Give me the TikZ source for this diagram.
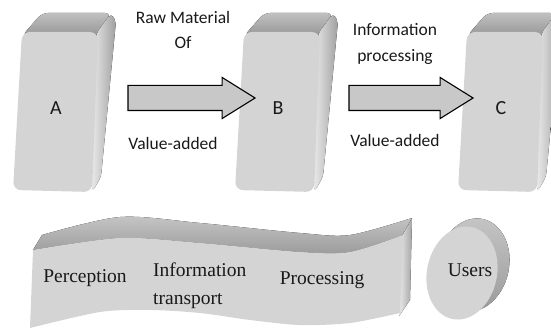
\documentclass[tikz,border=0pt]{standalone}
\usepackage{fontspec}
\newfontfamily\calibfont{Carlito}
\newfontfamily\timesfont{Liberation Serif}
\usetikzlibrary{shapes.arrows}

\definecolor{facegray}{RGB}{212,212,212}
\definecolor{topgray}{RGB}{150,150,150}
\definecolor{sidegray}{RGB}{232,232,232}
\definecolor{arrowgray}{RGB}{200,200,200}

\newcommand{\pillar}[1]{%
  \begin{scope}[xshift=#1pt]
    \fill[top color=topgray!60, bottom color=topgray, rounded corners=6pt]
      (22,36) -- (42,13) -- (111,13) -- (98,36) -- cycle;
    \fill[left color=sidegray, right color=gray!75, rounded corners=5pt]
      (96,34) -- (111,13) -- (116,21) -- (101,177) -- (92,192) -- cycle;
    \fill[facegray, rounded corners=8pt]
      (22,32) -- (98,32) -- (92,192) -- (13,190) -- cycle;
  \end{scope}}

\begin{document}
\begin{tikzpicture}[
  x=1pt, y=-1pt,
  pillar label/.style={font=\calibfont\fontsize{20}{24}\selectfont,text=black!90},
  flow label/.style={font=\calibfont\fontsize{17.5}{25.5}\selectfont,align=center,text=black!90},
  stage label/.style={font=\timesfont\fontsize{19.5}{28}\selectfont,text=black!90,inner sep=0pt},
  block arrow/.style={single arrow,draw=black,fill=arrowgray,line width=1.1pt,
    inner sep=0pt,inner ysep=12pt,single arrow head extend=8pt,single arrow tip angle=64},
]
\useasboundingbox (0,0) rectangle (551,331);

\pillar{0}
\pillar{222}
\pillar{445}
\node[pillar label] (A) at (56,108) {A};
\node[pillar label] (B) at (278,108) {B};
\node[pillar label] (C) at (501,108) {C};

\node[block arrow,minimum height=127pt] (ab) at (181.5,98) {};
\node[block arrow,minimum height=124pt] (bc) at (401,98) {};

\node[flow label] (raw) at (183,30) {Raw Material\\Of};
\node[flow label] (value1) at (173,143) {Value-added};
\node[flow label] (info) at (395,44) {Information\\processing};
\node[flow label] (value2) at (395,140) {Value-added};

\fill[top color=topgray!55, bottom color=topgray!95]
  plot[smooth] coordinates {(42,235) (120,217) (200,223) (300,233) (350,235) (412,218)}
  -- plot[smooth] coordinates {(403,235) (350,252) (300,252) (200,243) (120,238) (33,250)}
  -- cycle;
\fill[left color=sidegray, right color=gray!70]
  (402,236) -- (412,218) -- (410,300) -- (399,316) -- cycle;
\fill[facegray]
  plot[smooth] coordinates {(33,250) (120,238) (200,243) (300,252) (350,252) (403,235)}
  -- (400,313)
  -- plot[smooth] coordinates {(400,313) (350,323) (300,325) (250,320) (200,313) (150,310) (100,312) (30,328)}
  -- cycle;

\node[stage label] (perception) at (85,278) {Perception};
\node[stage label,align=left,anchor=west] (transport) at (153,286) {Information\\transport};
\node[stage label] (processing) at (322,280) {Processing};

\fill[top color=gray!45, bottom color=gray!80, rotate around={-12:(473,265)}]
  (473,265) ellipse [x radius=36, y radius=47];
\fill[facegray, rotate around={-12:(462,273)}]
  (462,273) ellipse [x radius=35, y radius=47];
\node[stage label] (users) at (470,270) {Users};
\end{tikzpicture}
\end{document}
